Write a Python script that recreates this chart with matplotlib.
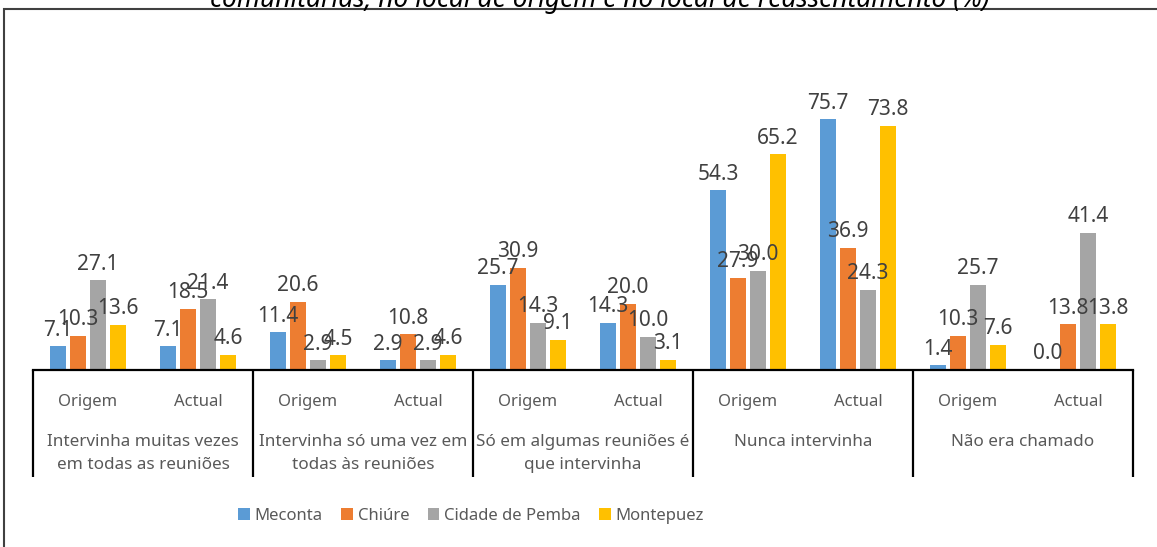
import numpy as np
import matplotlib
matplotlib.use("Agg")
import matplotlib.pyplot as plt
from matplotlib.transforms import blended_transform_factory
from matplotlib.patches import Rectangle

plt.rcParams['font.family'] = ['Noto Sans', 'DejaVu Sans']

W, H = 1157, 547

groups = ["Intervinha muitas vezes\nem todas as reuniões",
          "Intervinha só uma vez em\ntodas às reuniões",
          "Só em algumas reuniões é\nque intervinha",
          "Nunca intervinha",
          "Não era chamado"]
periods = ["Origem", "Actual"]
series = ["Meconta", "Chiúre", "Cidade de Pemba", "Montepuez"]
colors = ["#5B9BD5", "#ED7D31", "#A5A5A5", "#FFC000"]

# valores por subcategoria (grupo x periodo), na ordem Origem, Actual
meconta   = [7.1, 7.1, 11.4, 2.9, 25.7, 14.3, 54.3, 75.7, 1.4, 0.0]
chiure    = [10.3, 18.5, 20.6, 10.8, 30.9, 20.0, 27.9, 36.9, 10.3, 13.8]
pemba     = [27.1, 21.4, 2.9, 2.9, 14.3, 10.0, 30.0, 24.3, 25.7, 41.4]
montepuez = [13.6, 4.6, 4.5, 4.6, 9.1, 3.1, 65.2, 73.8, 7.6, 13.8]
values = [meconta, chiure, pemba, montepuez]

title = "comunitárias, no local de origem e no local de reassentamento (%)"

fig = plt.figure(figsize=(W / 100, H / 100), dpi=100)
ax = fig.add_axes([33 / W, 1 - 370 / H, 1100 / W, 331 / H])

n = len(meconta)
x = np.arange(n) + 0.5
pitch, bw = 0.182, 0.145
for k, (name, vals, c) in enumerate(zip(series, values, colors)):
    xs = x + (k - 1.5) * pitch
    ax.bar(xs, vals, width=bw, color=c, label=name, zorder=2)
    for xi, v in zip(xs, vals):
        ax.annotate(f"{v:.1f}", (xi, v), xytext=(0, 4), textcoords="offset points",
                    ha="center", va="bottom", fontsize=15, color="#404040")

ax.set_xlim(0, n)
ax.set_ylim(0, 100)
ax.set_yticks([])
ax.set_xticks([])
for s in ["top", "right", "left"]:
    ax.spines[s].set_visible(False)
ax.spines["bottom"].set_linewidth(1.6)
ax.spines["bottom"].set_color("black")

tr = blended_transform_factory(ax.transData, fig.transFigure)
for b in range(0, n + 1, 2):
    ax.plot([b, b], [1 - 370 / H, 1 - 477 / H], transform=tr, color="black",
            lw=1.6, clip_on=False, solid_capstyle="butt")
for i, xi in enumerate(x):
    ax.text(xi, 1 - 402 / H, periods[i % 2], transform=tr, ha="center", va="center",
            fontsize=12, color="#595959")
for g, name in enumerate(groups):
    ax.text(2 * g + 1, 1 - 434 / H, name, transform=tr, ha="center", va="top",
            fontsize=12.3, color="#595959", linespacing=1.6)

fig.legend(loc="center", bbox_to_anchor=(471 / W, 1 - 516 / H), ncol=4, frameon=False,
           fontsize=12, handlelength=0.7, handleheight=0.7, handletextpad=0.3,
           columnspacing=1.1, labelcolor="#595959")

fig.text(600 / W, 1 - 7 / H, title, ha="center", va="baseline", fontsize=19,
         fontweight="bold", fontstyle="italic", color="black")

fig.add_artist(Rectangle((3.5 / W, -0.1), 2, 1 - 9 / H + 0.1, transform=fig.transFigure,
                         fill=False, edgecolor="#404040", lw=1.5))

fig.savefig("out.png", dpi=100)
